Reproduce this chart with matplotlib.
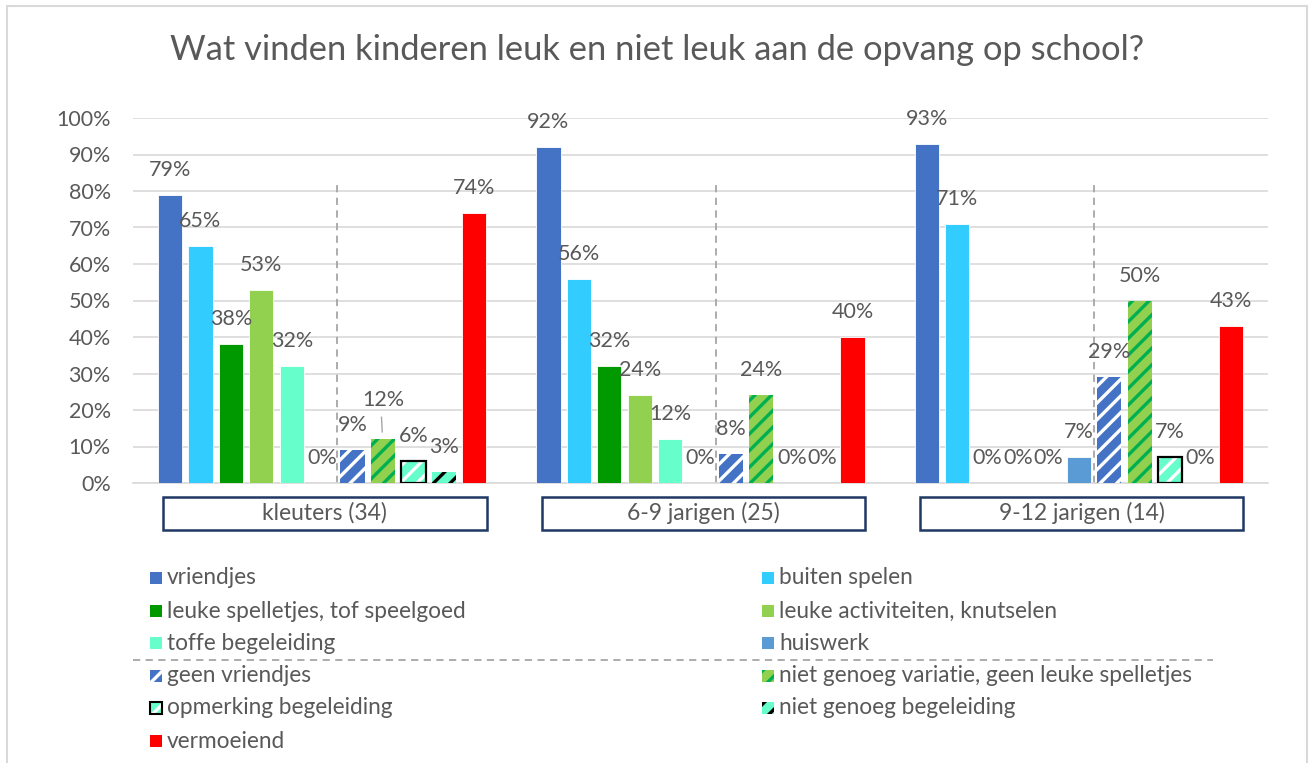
import numpy as np
import matplotlib.pyplot as plt
from matplotlib.patches import Rectangle
from matplotlib.lines import Line2D
from matplotlib.transforms import blended_transform_factory

plt.rcParams['font.family'] = ['Lato', 'DejaVu Sans']
plt.rcParams['hatch.linewidth'] = 2.4

groups = ['kleuters (34)', '6-9 jarigen (25)', '9-12 jarigen (14)']
series = ['vriendjes', 'buiten spelen', 'leuke spelletjes, tof speelgoed',
          'leuke activiteiten, knutselen', 'toffe begeleiding', 'huiswerk',
          'geen vriendjes', 'niet genoeg variatie, geen leuke spelletjes',
          'opmerking begeleiding', 'niet genoeg begeleiding', 'vermoeiend']
kleuters = [79, 65, 38, 53, 32, 0, 9, 12, 6, 3, 74]
jarigen_6_9 = [92, 56, 32, 24, 12, 0, 8, 24, 0, 0, 40]
jarigen_9_12 = [93, 71, 0, 0, 0, 7, 29, 50, 7, 0, 43]
values = np.array([kleuters, jarigen_6_9, jarigen_9_12]) / 100

# style per series: facecolor, hatch, hatch colour, border
styles = [
    ('#4472C4', None, None, False),
    ('#33CCFF', None, None, False),
    ('#009900', None, None, False),
    ('#92D050', None, None, False),
    ('#66FFCC', None, None, False),
    ('#5B9BD5', None, None, False),
    ('#4472C4', '//', 'white', False),
    ('#92D050', '//', '#00B050', False),
    ('#66FFCC', '//', 'white', True),
    ('#66FFCC', '//', 'black', False),
    ('#FF0000', None, None, False),
]

W, H = 1309, 763
fig = plt.figure(figsize=(W / 100, H / 100), dpi=100)
ax = fig.add_axes([133 / W, 1 - 483 / H, (1268 - 133) / W, (483 - 118) / H])

n = len(series)
pitch = 0.0804
width = 0.064
x = np.arange(len(groups))
txtc = '#595959'

for i, name in enumerate(series):
    fc, hatch, hc, border = styles[i]
    pos = x + (i - (n - 1) / 2) * pitch
    vals = values[:, i]
    if hatch:
        ax.bar(pos, vals, width, color=fc, edgecolor=hc, hatch=hatch, linewidth=0, zorder=3)
    else:
        ax.bar(pos, vals, width, color=fc, edgecolor='white', linewidth=0.6, zorder=3)
    if border:
        for p, v in zip(pos, vals):
            if v > 0:
                ax.bar(p, v, width, fill=False, edgecolor='black', linewidth=1.6, zorder=4)
    for g, (p, v) in enumerate(zip(pos, vals)):
        lift = 18
        if g == 0 and i == 7:
            lift = 28
            ax.plot([p - 0.002, p - 0.004], [v + 0.02, v + 0.06], color='#A6A6A6', lw=1, zorder=5)
        ax.annotate(f'{round(v * 100)}%', (p, v), xytext=(0, lift), textcoords='offset points',
                    ha='center', va='center', fontsize=15.5, color=txtc, zorder=6)

# separators between liked / disliked items
for g in x:
    sx = g + (5.5 - (n - 1) / 2) * pitch
    ax.plot([sx, sx], [0, 0.83], color='#A6A6A6', lw=1.3, ls=(0, (4, 3)), zorder=2)

ax.set_xlim(-0.5, 2.5)
ax.set_ylim(0, 1)
ax.set_yticks(np.arange(0, 1.01, 0.1))
ax.set_yticklabels([f'{int(round(t * 100))}%' for t in np.arange(0, 1.01, 0.1)])
ax.tick_params(axis='y', length=0, pad=16, labelsize=15.5, labelcolor=txtc)
ax.set_xticks([])
ax.grid(axis='y', color='#D9D9D9', lw=1.2, zorder=0)
for s in ['top', 'right', 'left']:
    ax.spines[s].set_visible(False)
ax.spines['bottom'].set_color('#D9D9D9')
ax.spines['bottom'].set_linewidth(1.2)

# category boxes
tr = blended_transform_factory(ax.transData, ax.transAxes)
for g, name in zip(x, groups):
    ax.add_patch(Rectangle((g - 0.42, -0.129), 0.855, 0.091, transform=tr, fill=False,
                           edgecolor='#1F3864', lw=1.8, clip_on=False))
    ax.text(g + 0.007, -0.083, name, transform=tr, ha='center', va='center',
            fontsize=16.5, color=txtc)

fig.text(657 / W, 1 - 50 / H, 'Wat vinden kinderen leuk en niet leuk aan de opvang op school?',
         ha='center', va='center', fontsize=24.8, color=txtc)

# legend, drawn by hand
rows = [578, 611, 643, 676, 708, 741]
cols = [150, 762]
order = [(0, 0, 0), (1, 1, 0), (2, 0, 1), (3, 1, 1), (4, 0, 2), (5, 1, 2),
         (6, 0, 3), (7, 1, 3), (8, 0, 4), (9, 1, 4), (10, 0, 5)]
for i, c, r in order:
    fc, hatch, hc, border = styles[i]
    cx, cy = cols[c], rows[r]
    sq = Rectangle((cx / W, 1 - (cy + 6) / H), 12 / W, 12 / H, transform=fig.transFigure,
                   facecolor=fc, edgecolor=hc if hatch else fc, hatch=hatch, lw=0)
    fig.patches.append(sq)
    if border:
        fig.patches.append(Rectangle((cx / W, 1 - (cy + 6) / H), 12 / W, 12 / H,
                                     transform=fig.transFigure, fill=False,
                                     edgecolor='black', lw=1.5))
    fig.text((cx + 17) / W, 1 - cy / H, series[i], ha='left', va='center',
             fontsize=16.3, color=txtc)

fig.lines.append(Line2D([133 / W, 1213 / W], [1 - 660 / H, 1 - 660 / H], transform=fig.transFigure,
                        color='#A6A6A6', lw=1.3, ls=(0, (4, 3))))

# chart border
fig.patches.append(Rectangle((7 / W, -0.01), 1300 / W, 1 - 6 / H + 0.01, transform=fig.transFigure,
                             fill=False, edgecolor='#D9D9D9', lw=1.5))

fig.savefig('out.png', dpi=100)
